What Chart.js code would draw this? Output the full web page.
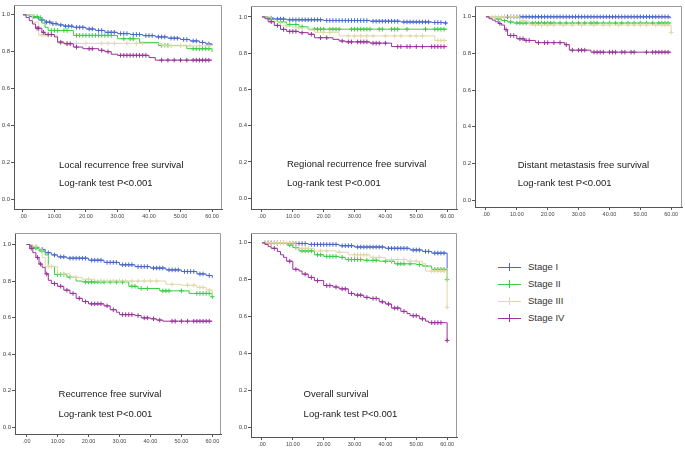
<!DOCTYPE html>
<html><head><meta charset="utf-8">
<script src="https://cdn.jsdelivr.net/npm/chart.js@4.4.1/dist/chart.umd.min.js"></script>
<style>
html,body{margin:0;padding:0;background:#fff;}
body{width:685px;height:449px;position:relative;overflow:hidden;font-family:"Liberation Sans",Arial,sans-serif;}
canvas{position:absolute;}
.lgline{position:absolute;height:1px;width:23px;left:498px;}
.lgtick{position:absolute;width:1px;height:8px;left:509px;}
.lgtext{position:absolute;left:528px;font-size:9.5px;color:#333;line-height:10px;}
</style></head><body>
<script>
// ---------- labels ----------
const stages = ['Stage I', 'Stage II', 'Stage III', 'Stage IV'];
const stageColors = ['#4a68c8', '#3ccc48', '#e0d8a8', '#993399'];
const xTicks = [0, 10, 20, 30, 40, 50, 60];
const xTickLabels = ['.00', '10.00', '20.00', '30.00', '40.00', '50.00', '60.00'];
const yTicks = [0, 0.2, 0.4, 0.6, 0.8, 1.0];
const yTickLabels = ['0.0', '0.2', '0.4', '0.6', '0.8', '1.0'];
const panelTitles = ['Local recurrence free survival', 'Regional recurrence free survival',
  'Distant metastasis free survival', 'Recurrence free survival', 'Overall survival'];
const testText = 'Log-rank test P<0.001';

// ---------- Local recurrence free survival ----------
const lrfs1 = [[0,1],[2,0.99],[3,0.984],[5,0.972],[7,0.96],[9,0.952],[11,0.945],[13,0.938],[16,0.932],[20,0.923],[23,0.915],[26,0.905],[30,0.898],[34,0.893],[38,0.887],[42,0.88],[46,0.873],[50,0.866],[53,0.858],[56,0.85],[58,0.842],[60,0.834]];
const lrfs1c = [6,7.5,8.5,9.5,10.5,12,13.5,14.5,15.5,17,18,19,21,22,24,25,27,28,29,31,32,33,35,36,37,39,40,41,43,44,45,47,48,49,51,52,54,55,57,59];
const lrfs2 = [[0,1],[3,0.99],[5,0.985],[6,0.955],[7,0.932],[8,0.915],[16,0.888],[30,0.87],[37,0.85],[43,0.834],[52,0.816],[60,0.798]];
const lrfs2c = [3.5,4.5,5.5,9,10,11,13,14,17,18,19,20,21,22,23,24,25,26,27,28,32,34,35,44,45,46,54,55,56,57,58,59];
const lrfs3 = [[0,1],[3,0.96],[5,0.89],[11,0.845],[44,0.832],[60,0.832]];
const lrfs3c = [6,7,8,12,14,17,20,25,27,29,33,36,38,45,47,50,53,56,59];
const lrfs4 = [[0,1],[1,0.985],[2,0.968],[3,0.95],[4,0.927],[6,0.905],[7,0.893],[10,0.88],[11,0.852],[13,0.843],[16,0.825],[19,0.816],[24,0.807],[26,0.8],[28,0.786],[30,0.78],[40,0.768],[42,0.754],[60,0.754]];
const lrfs4c = [4.5,5,6.5,8,9,12,14,15,17,21,22,25,27,31,32,33,34,35,36,37,38,39,44,46,48,50,52,54,55,56,57,58,59];

// ---------- Regional recurrence free survival ----------
const rrfs1 = [[0,1],[2,0.993],[4,0.988],[8,0.984],[20,0.98],[35,0.976],[45,0.972],[55,0.969],[59,0.966],[60,0.966]];
const rrfs1c = [3,5,6,7,9,10,11,12,13,14,15,16,17,18,19,21,22,23,24,25,26,27,28,29,30,31,32,33,34,36,37,38,39,40,41,42,43,44,46,47,48,49,50,51,52,53,54,56,57,58,59.5];
const rrfs2 = [[0,1],[2,0.985],[5,0.972],[8,0.958],[12,0.945],[15,0.932],[60,0.932]];
const rrfs2c = [3,6,9,11,13,17,18,19,20,22,23,24,25,29,30,31,32,33,34,35,38,39,42,43,44,47,53,56,57,58,59];
const rrfs3 = [[0,1],[3,0.975],[6,0.95],[10,0.94],[15,0.928],[17,0.915],[25,0.895],[56,0.87],[60,0.87]];
const rrfs3c = [4,8,12,20,22,28,30,32,34,36,40,43,45,48,50,52,57,58,59];
const rrfs4 = [[0,1],[1,0.99],[2,0.973],[4,0.953],[6,0.931],[8,0.92],[12,0.913],[15,0.904],[17,0.885],[23,0.876],[25,0.867],[27,0.862],[35,0.855],[42,0.836],[60,0.836]];
const rrfs4c = [3,5,7,9,10,11,13,16,19,21,26,28,29,31,32,33,34,36,37,38,40,44,45,47,48,50,52,55,56,57,58,59];

// ---------- Distant metastasis free survival ----------
const dmfs1 = [[0,1],[59.5,0.995],[60,0.995]];
const dmfs1c = [6,7,8,9,10,11,12,13,14,15,16,17,18,19,20,21,22,23,24,25,26,27,28,29,30,31,32,33,34,35,36,37,38,39,40,41,42,43,44,45,46,47,48,49,50,51,52,53,54,55,56,57,58,59];
const dmfs2 = [[0,1],[3,0.988],[5,0.98],[7,0.972],[9,0.966],[60,0.966]];
const dmfs2c = [4,6,8,10,11,12,13,15,16,17,18,19,20,21,22,24,26,28,30,32,34,35,36,38,40,42,44,46,48,50,52,54,56,57,58,59];
const dmfs3 = [[0,1],[11,0.978],[14,0.955],[59.5,0.955],[60,0.915]];
const dmfs3c = [2,3,4,5,6,8,9,10,12,16,18,20,22,25,28,31,35,38,40,43,46,48,50,52,55,57,58,59,60];
const dmfs4 = [[0,1],[1,0.99],[2,0.982],[3,0.973],[4,0.964],[5,0.955],[6,0.93],[7,0.898],[10,0.88],[12.5,0.871],[16,0.859],[25.5,0.848],[27,0.818],[34,0.807],[60,0.807]];
const dmfs4c = [4.5,6.5,8,9,11,12,13,14,17,19,20,22,24,26,28,30,31,32,35,36,37,38,40,41,42,44,45,47,48,52,54,55,56,57,58,59];

// ---------- Recurrence free survival ----------
const rfs1 = [[0,1],[1,0.993],[2,0.986],[4,0.973],[6,0.955],[8,0.943],[10,0.932],[13,0.925],[20,0.914],[25,0.902],[30,0.889],[35,0.879],[40,0.871],[45,0.861],[50,0.852],[55,0.839],[58,0.83],[60,0.818]];
const rfs1c = [3,5,7,9,11,12,14,15,16,17,18,19,21,22,23,24,26,27,28,29,31,32,33,34,36,37,38,39,41,42,43,44,46,47,48,49,51,52,53,54,56,57,59];
const rfs2 = [[0,1],[1,0.991],[2,0.979],[4,0.964],[6,0.943],[7,0.88],[9,0.836],[13,0.821],[16,0.8],[18,0.795],[33,0.771],[36,0.759],[43,0.746],[52.5,0.732],[60,0.714]];
const rfs2c = [3,5,10,11,12,14,19,20,21,22,23,24,25,27,29,31,34,35,37,39,44,45,46,50,55,56,57,58,59,60];
const rfs3 = [[0,1],[2,0.99],[4,0.975],[5,0.929],[6,0.879],[10,0.839],[14,0.82],[18,0.81],[22,0.8],[45,0.782],[50,0.777],[55,0.765],[58,0.75],[60,0.72]];
const rfs3c = [3,7,8,12,16,20,24,26,28,30,32,34,36,38,40,42,47,52,54,56,57,59];
const rfs4 = [[0,1],[1,0.979],[2,0.955],[3,0.929],[4,0.893],[5,0.875],[6,0.839],[7,0.804],[8,0.786],[10,0.771],[12,0.75],[14,0.732],[16,0.705],[18,0.6875],[20,0.675],[25,0.664],[27,0.643],[29,0.629],[30,0.616],[35,0.611],[37,0.598],[40,0.593],[42,0.586],[44,0.58],[60,0.58]];
const rfs4c = [1.5,3.5,4.5,6.5,9,11,13,15,17,19,21,22,23,24,26,28,31,32,33,34,36,38,39,41,43,47,48,50,52,54,55,56,57,58,59];

// ---------- Overall survival ----------
const os1 = [[0,1],[8,0.996],[15,0.991],[25,0.984],[30,0.977],[40,0.97],[48,0.961],[52,0.953],[55,0.944],[59.5,0.944],[60,0.86]];
const os1c = [2,3,4,5,6,7,9,10,11,12,13,14,16,17,18,19,20,21,22,23,24,26,27,28,29,31,32,33,34,35,36,37,38,39,41,42,43,44,45,46,47,49,50,51,53,54,56,57,58,59];
const os2 = [[0,1],[2,0.996],[8,0.988],[10,0.974],[12,0.956],[17,0.935],[20,0.926],[25,0.921],[27,0.909],[33,0.905],[38,0.9],[43,0.886],[50,0.882],[52,0.874],[55,0.856],[59.5,0.856],[60,0.8]];
const os2c = [1,3,5,9,11,13,14,15,16,18,19,21,22,23,24,26,28,29,30,31,32,34,36,37,40,42,44,45,46,48,51,53,56,57,58,59,60];
const os3 = [[0,1],[11,0.97],[17,0.956],[24,0.949],[28,0.935],[35,0.921],[40,0.909],[47,0.9],[52,0.886],[53,0.847],[59.5,0.847],[60,0.65]];
const os3c = [1,2,3,4,5,6,7,8,9,10,13,14,15,19,21,25,30,31,32,33,34,36,38,42,44,46,48,50,55,56,57,58,59,60];
const os4 = [[0,1],[1,0.991],[2,0.979],[3,0.97],[5,0.953],[6,0.935],[7,0.921],[8,0.9],[10,0.856],[12,0.847],[13,0.83],[15,0.812],[17,0.795],[20,0.768],[23,0.76],[25,0.75],[28,0.725],[30,0.716],[33,0.704],[35,0.698],[38,0.68],[40,0.668],[42,0.646],[45,0.628],[47,0.616],[48,0.605],[51,0.588],[53,0.575],[54,0.567],[59.5,0.567],[60,0.47]];
const os4c = [4,9,11,14,16,18,21,22,24,26,27,29,31,32,34,36,37,39,41,43,44,46,49,50,52,55,56,57,58,60];

// ---------- panel layout (pixel frame + value ranges) ----------
const panels = [
  {curves:[lrfs1,lrfs2,lrfs3,lrfs4], cens:[lrfs1c,lrfs2c,lrfs3c,lrfs4c], frame:[14,2,223,209], x:[-2.84,63.16], y:[-0.053,1.053], text:[11.4,0.184,0.086]},
  {curves:[rrfs1,rrfs2,rrfs3,rrfs4], cens:[rrfs1c,rrfs2c,rrfs3c,rrfs4c], frame:[251,3,458,209], x:[-3.55,63.2], y:[-0.06,1.06], text:[8.1,0.185,0.082]},
  {curves:[dmfs1,dmfs2,dmfs3,dmfs4], cens:[dmfs1c,dmfs2c,dmfs3c,dmfs4c], frame:[475,3,683,207], x:[-3.55,63.5], y:[-0.038,1.059], text:[10.3,0.19,0.09]},
  {curves:[rfs1,rfs2,rfs3,rfs4], cens:[rfs1c,rfs2c,rfs3c,rfs4c], frame:[15,230,222,434], x:[-3.76,62.8], y:[-0.038,1.063], text:[10.3,0.177,0.072]},
  {curves:[os1,os2,os3,os4], cens:[os1c,os2c,os3c,os4c], frame:[251,230,458,437], x:[-3.55,63.2], y:[-0.053,1.053], text:[13.5,0.177,0.072]}
];

function survAt(curve, t) {
  let s = curve[0][1];
  for (const [ti, si] of curve) { if (ti <= t) s = si; else break; }
  return s;
}

const AXW = 14, AXH = 14, PADT = 2, PADR = 4;

const framePlugin = {
  id: 'frame',
  beforeDatasetsDraw(chart) {
    const a = chart.chartArea, c = chart.ctx;
    c.save();
    c.strokeStyle = '#9a9a9a'; c.lineWidth = 1;
    c.beginPath();
    c.moveTo(a.left, a.top + 0.5); c.lineTo(a.right - 0.5, a.top + 0.5); c.lineTo(a.right - 0.5, a.bottom);
    c.stroke();
    c.restore();
  },
  afterDatasetsDraw(chart, args, opts) {
    const c = chart.ctx, xs = chart.scales.x, ys = chart.scales.y;
    c.save();
    c.fillStyle = '#1a1a1a';
    c.font = '9.5px "Liberation Sans", Arial, sans-serif';
    c.textBaseline = 'middle';
    c.textAlign = 'left';
    const px = xs.getPixelForValue(opts.pos[0]);
    c.fillText(opts.title, px, ys.getPixelForValue(opts.pos[1]));
    c.fillText(testText, px, ys.getPixelForValue(opts.pos[2]));
    c.restore();
  }
};

panels.forEach((p, pi) => {
  const [L, T, R, B] = p.frame;
  const cv = document.createElement('canvas');
  const w = R - L + AXW + PADR, h = B - T + PADT + AXH;
  cv.width = w; cv.height = h;
  cv.style.left = (L - AXW) + 'px'; cv.style.top = (T - PADT) + 'px';
  cv.style.width = w + 'px'; cv.style.height = h + 'px';
  document.body.appendChild(cv);

  const datasets = [];
  p.curves.forEach((cu, si) => {
    datasets.push({
      type: 'scatter', showLine: true, stepped: true,
      data: cu.map(([t, s]) => ({x: t, y: s})),
      borderColor: stageColors[si], backgroundColor: stageColors[si],
      borderWidth: 1, pointRadius: 0, pointHoverRadius: 0, order: 4 - si
    });
    datasets.push({
      type: 'scatter', showLine: false,
      data: p.cens[si].map(t => ({x: t, y: survAt(cu, t)})),
      pointStyle: 'cross', pointRadius: 2.3, pointBorderWidth: 1,
      borderColor: stageColors[si], backgroundColor: stageColors[si],
      borderWidth: 1, order: 4 - si
    });
  });

  new Chart(cv, {
    type: 'scatter',
    data: {datasets},
    plugins: [framePlugin],
    options: {
      responsive: false, animation: false, devicePixelRatio: 1,
      layout: {padding: {left: 0, top: PADT, right: PADR, bottom: 0}},
      plugins: {legend: {display: false}, tooltip: {enabled: false},
        frame: {title: panelTitles[pi], pos: p.text}},
      scales: {
        x: {
          type: 'linear', min: p.x[0], max: p.x[1],
          afterBuildTicks: s => { s.ticks = xTicks.map(v => ({value: v})); },
          afterFit: s => { s.height = AXH; },
          ticks: {callback: v => xTickLabels[xTicks.indexOf(v)], font: {size: 5.5, family: '"Liberation Sans", Arial'}, color: '#444', padding: 1, maxRotation: 0, autoSkip: false},
          grid: {display: true, drawOnChartArea: false, drawTicks: true, tickLength: 3, color: '#555'},
          border: {display: true, color: '#555', width: 1}
        },
        y: {
          type: 'linear', min: p.y[0], max: p.y[1],
          afterBuildTicks: s => { s.ticks = yTicks.map(v => ({value: v})); },
          afterFit: s => { s.width = AXW; },
          ticks: {callback: v => yTickLabels[yTicks.findIndex(t => Math.abs(t - v) < 1e-9)], font: {size: 6, family: '"Liberation Sans", Arial'}, color: '#444', padding: 1, autoSkip: false},
          grid: {display: true, drawOnChartArea: false, drawTicks: true, tickLength: 3, color: '#555'},
          border: {display: true, color: '#555', width: 1}
        }
      }
    }
  });
});

// ---------- legend ----------
const legendY = [267, 284, 301, 318];
stages.forEach((name, i) => {
  const ln = document.createElement('div');
  ln.className = 'lgline'; ln.style.top = legendY[i] + 'px'; ln.style.background = stageColors[i];
  const tk = document.createElement('div');
  tk.className = 'lgtick'; tk.style.top = (legendY[i] - 4) + 'px'; tk.style.background = stageColors[i];
  const tx = document.createElement('div');
  tx.className = 'lgtext'; tx.style.top = (legendY[i] - 5) + 'px'; tx.textContent = name;
  document.body.append(ln, tk, tx);
});
</script>
</body></html>
